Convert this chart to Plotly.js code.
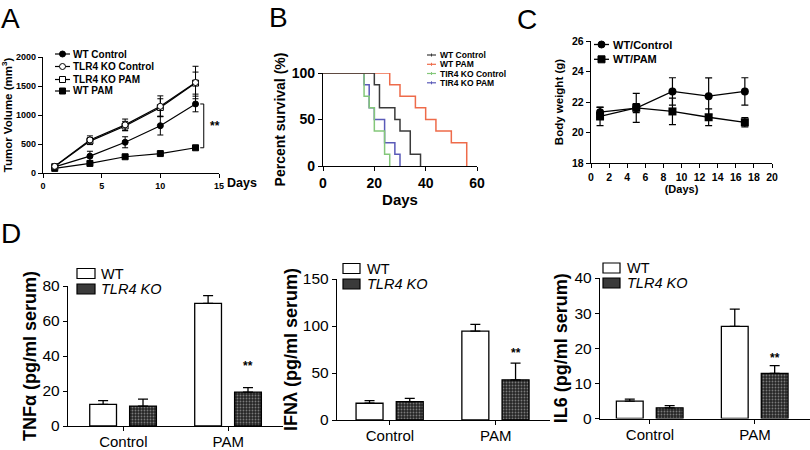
<!DOCTYPE html>
<html lang="en">
<head>
<meta charset="UTF-8" />
<script src="https://cdn.plot.ly/plotly-3.0.1.min.js"></script>
<style>body { margin: 0; background: #fff; }</style>
</head>
<body>
<div id="chart" style="width:810px;height:450px;"></div>
<script>
// ---- A: tumor volume (mm3) vs days
const tumorDays = [1, 4, 7, 10, 13];
const wtControlVol = [105, 290, 530, 815, 1190];
const wtControlVolErr = [20, 85, 95, 160, 135];
const koControlVol = [115, 570, 830, 1150, 1560];
const koControlVolErr = [25, 70, 100, 180, 280];
const koPamVol = [110, 550, 810, 1130, 1550];
const koPamVolErr = [25, 60, 80, 150, 190];
const wtPamVol = [80, 165, 280, 335, 435];
const wtPamVolErr = [15, 25, 25, 25, 30];

// ---- B: Kaplan-Meier survival (step points)
const survNames = ['WT Control', 'WT PAM', 'TIR4 KO Control', 'TIR4 KO PAM'];
const wtControlT = [0, 20, 22, 28, 30, 34, 38];
const wtControlS = [100, 87.5, 62.5, 50, 37.5, 12.5, 0];
const wtPamT = [0, 26, 30, 36, 40, 44, 50, 56];
const wtPamS = [100, 87.5, 75, 62.5, 50, 37.5, 25, 0];
const koControlT = [0, 16, 18, 20, 24, 26];
const koControlS = [100, 75, 62.5, 37.5, 12.5, 0];
const koPamT = [0, 16, 18, 20, 24, 28, 30];
const koPamS = [100, 87.5, 62.5, 50, 25, 12.5, 0];

// ---- C: body weight (g)
const weightDays = [1, 5, 9, 13, 17];
const ctrlWeight = [21.33, 21.6, 22.69, 22.38, 22.69];
const ctrlWeightErr = [0.33, 0.3, 0.9, 1.2, 0.9];
const pamWeight = [21.05, 21.62, 21.38, 21.0, 20.67];
const pamWeightErr = [0.6, 0.95, 0.87, 0.55, 0.3];

// ---- D: serum cytokines
const groups = ['Control', 'PAM'];
const tnfWT = [12.4, 70.1];
const tnfWTErr = [2.1, 4.4];
const tnfKO = [11.4, 19.4];
const tnfKOErr = [4, 2.5];
const ifnWT = [17.8, 94.6];
const ifnWTErr = [2.8, 7.1];
const ifnKO = [19.6, 42.7];
const ifnKOErr = [3.5, 17.8];
const il6WT = [4.95, 26.2];
const il6WTErr = [0.55, 4.95];
const il6KO = [3.05, 12.86];
const il6KOErr = [0.6, 2.2];

const FONT = 'Liberation Sans, Arial, sans-serif';
const W = 810, H = 450;
const px = x => x / W;
const py = y => 1 - y / H;

function ax(extra) {
  return Object.assign({
    showgrid: false, zeroline: false, showline: true, linecolor: '#000', linewidth: 1.2,
    ticks: 'outside', ticklen: 4, tickwidth: 1, tickcolor: '#000', fixedrange: true
  }, extra);
}
function bold(size) { return {family: FONT, size: size, color: '#000', weight: 700}; }
function plain(size) { return {family: FONT, size: size, color: '#000'}; }

const traces = [];

// A
function tumorLine(y, err, symbol, fill) {
  traces.push({
    x: tumorDays, y: y, xaxis: 'x', yaxis: 'y', mode: 'lines+markers', cliponaxis: false,
    line: {color: '#000', width: 1.2},
    marker: {symbol: symbol, size: 6, color: fill, line: {color: '#000', width: 1}},
    error_y: {type: 'data', array: err, color: '#000', thickness: 1, width: 3},
    showlegend: false
  });
}
tumorLine(wtPamVol, wtPamVolErr, 'square', '#000');
tumorLine(wtControlVol, wtControlVolErr, 'circle', '#000');
tumorLine(koPamVol, koPamVolErr, 'square', '#fff');
tumorLine(koControlVol, koControlVolErr, 'circle', '#fff');

// B
const survColors = ['#3a3a3a', '#ee6b4a', '#84c77a', '#5a5ab8'];
const survT = [wtControlT, wtPamT, koControlT, koPamT];
const survS = [wtControlS, wtPamS, koControlS, koPamS];
[3, 2, 1, 0].forEach(i => {
  traces.push({
    x: survT[i], y: survS[i], xaxis: 'x2', yaxis: 'y2', mode: 'lines', cliponaxis: false,
    line: {color: survColors[i], width: 1.5, shape: 'hv'}, name: survNames[i], showlegend: false
  });
});

// C
[[pamWeight, pamWeightErr, 'square'], [ctrlWeight, ctrlWeightErr, 'circle']].forEach(d => {
  traces.push({
    x: weightDays, y: d[0], xaxis: 'x3', yaxis: 'y3', mode: 'lines+markers', cliponaxis: false,
    line: {color: '#000', width: 1.3},
    marker: {symbol: d[2], size: 8, color: '#000'},
    error_y: {type: 'data', array: d[1], color: '#000', thickness: 1.2, width: 3.5},
    showlegend: false
  });
});

// D
const barW = 0.255;
function bars(n, wt, wtErr, ko, koErr) {
  traces.push({
    type: 'bar', x: [0, 1], y: wt, xaxis: 'x' + n, yaxis: 'y' + n, width: barW, offset: -0.32,
    marker: {color: '#fff', line: {color: '#000', width: 1.3}},
    error_y: {type: 'data', symmetric: false, array: wtErr, arrayminus: [0, 0], color: '#000', thickness: 1.3, width: 5},
    name: 'WT', showlegend: false
  });
  traces.push({
    type: 'bar', x: [0, 1], y: ko, xaxis: 'x' + n, yaxis: 'y' + n, width: barW, offset: 0.06,
    marker: {color: '#262626', line: {color: '#000', width: 1.3},
      pattern: {shape: '.', fillmode: 'replace', bgcolor: '#262626', fgcolor: '#7a7a7a', size: 3, solidity: 0.3}},
    error_y: {type: 'data', symmetric: false, array: koErr, arrayminus: [0, 0], color: '#000', thickness: 1.3, width: 5},
    name: 'TLR4 KO', showlegend: false
  });
}
bars(4, tnfWT, tnfWTErr, tnfKO, tnfKOErr);
bars(5, ifnWT, ifnWTErr, ifnKO, ifnKOErr);
bars(6, il6WT, il6WTErr, il6KO, il6KOErr);

// hand-drawn legends (tight GraphPad spacing)
const shapes = [], annotations = [];
function label(x, y, s, font, extra) {
  annotations.push(Object.assign({xref: 'paper', yref: 'paper', x: px(x), y: py(y), text: s,
    showarrow: false, xanchor: 'left', yanchor: 'middle', font: font, borderpad: 0}, extra));
}
function seg(x0, x1, y, color, width) {
  shapes.push({type: 'line', xref: 'paper', yref: 'paper', x0: px(x0), x1: px(x1), y0: py(y), y1: py(y),
    line: {color: color, width: width}});
}
function dot(type, cx, cy, r, fill) {
  shapes.push({type: type, xref: 'paper', yref: 'paper', xsizemode: 'pixel', ysizemode: 'pixel',
    xanchor: px(cx), yanchor: py(cy), x0: -r, x1: r, y0: -r, y1: r,
    fillcolor: fill, line: {color: '#000', width: 1}});
}
const legendA = [['WT Control', 'circle', '#000'], ['TLR4 KO Control', 'circle', '#fff'],
  ['TLR4 KO PAM', 'rect', '#fff'], ['WT PAM', 'rect', '#000']];
[54, 66.5, 79.5, 91].forEach((y, i) => {
  seg(55, 70, y, '#000', 1.2);
  dot(legendA[i][1], 62.5, y, 3, legendA[i][2]);
  label(72, y, legendA[i][0], bold(10));
});
[55, 64.3, 73.5, 82.8].forEach((y, i) => {
  seg(427, 436, y, survColors[i], 1.2);
  shapes.push({type: 'line', xref: 'paper', yref: 'paper', x0: px(431.5), x1: px(431.5),
    y0: py(y - 1.5), y1: py(y + 1.5), line: {color: survColors[i], width: 1}});
  label(439, y, survNames[i], bold(8.5));
});
[['WT/Control', 'circle', 44.5], ['WT/PAM', 'rect', 59.3]].forEach(d => {
  seg(594, 609, d[2], '#000', 1.3);
  dot(d[1], 601.5, d[2], 3.5, '#000');
  label(612, d[2], d[0], bold(11));
});
[[77, 95, 100, 273.5, 289], [343, 360, 366, 268.5, 284], [603, 620, 626, 268, 283]].forEach(d => {
  shapes.push({type: 'rect', xref: 'paper', yref: 'paper', x0: px(d[0]), x1: px(d[1]),
    y0: py(d[3] - 5), y1: py(d[3] + 5), fillcolor: '#fff', line: {color: '#000', width: 1.2}});
  shapes.push({type: 'rect', xref: 'paper', yref: 'paper', x0: px(d[0]), x1: px(d[1]),
    y0: py(d[4] - 5), y1: py(d[4] + 5), fillcolor: '#3a3a3a', line: {color: '#000', width: 1.2}});
  label(d[2], d[3], 'WT', plain(14.5));
  label(d[2], d[4], '<i>TLR4 KO</i>', plain(14.5));
});

// significance bracket in A, built from the last day's means
const last = tumorDays.length - 1;
const yTop = wtControlVol[last], yBot = wtPamVol[last];
shapes.push({type: 'path', xref: 'x', yref: 'y', line: {color: '#000', width: 1},
  path: `M13.4,${yTop} L13.7,${yTop} L13.7,${yBot} L13.4,${yBot}`});
annotations.push({xref: 'x', yref: 'y', x: 14.65, y: (yTop + yBot) / 2, text: '**', showarrow: false, font: bold(12)});
[['x4', 'y4', 34.3], ['x5', 'y5', 71], ['x6', 'y6', 17.3]].forEach(d => {
  annotations.push({xref: d[0], yref: d[1], x: 1 + 0.06 + barW / 2, y: d[2], text: '**', showarrow: false, font: bold(12)});
});
annotations.push({xref: 'paper', yref: 'paper', x: px(225), y: py(182.5), text: 'Days', showarrow: false,
  xanchor: 'left', font: bold(12.5)});

// panel letters
[['A', 0, 18], ['B', 268, 17], ['C', 516, 19], ['D', 0, 233]].forEach(d => {
  label(d[1], d[2], d[0], plain(28));
});

const layout = {
  width: W, height: H, margin: {l: 0, r: 0, t: 0, b: 0},
  paper_bgcolor: '#fff', plot_bgcolor: 'rgba(0,0,0,0)', showlegend: false,
  font: {family: FONT, color: '#000'},
  xaxis: ax({domain: [px(43), px(219)], range: [0, 15], tickvals: [0, 5, 10, 15], anchor: 'y', tickfont: bold(9)}),
  yaxis: ax({domain: [py(173), py(57)], range: [0, 2000], dtick: 500, anchor: 'x', tickfont: bold(9),
    title: {text: 'Tumor Volume (mm<sup>3</sup>)', font: bold(11.5), standoff: 2}}),
  xaxis2: ax({domain: [px(323), px(477)], range: [0, 60], dtick: 20, anchor: 'y2', tickfont: bold(14),
    title: {text: 'Days', font: bold(15), standoff: 2}}),
  yaxis2: ax({domain: [py(166), py(73)], range: [0, 100], dtick: 50, anchor: 'x2', tickfont: bold(14),
    title: {text: 'Percent survival (%)', font: bold(14), standoff: 2}}),
  xaxis3: ax({domain: [px(591), px(772)], range: [0, 20], dtick: 2, anchor: 'y3', tickfont: bold(10.5),
    title: {text: '(Days)', font: bold(11), standoff: 3}}),
  yaxis3: ax({domain: [py(163), py(41)], range: [18, 26], dtick: 2, anchor: 'x3', tickfont: bold(10.5),
    title: {text: 'Body weight (g)', font: bold(11.5), standoff: 6}}),
  xaxis4: ax({domain: [px(68), px(283)], range: [-0.527, 1.521], tickvals: [0, 1], ticktext: groups, anchor: 'y4', tickfont: plain(15), ticklabelstandoff: -2}),
  yaxis4: ax({domain: [py(426), py(286)], range: [0, 80], dtick: 20, anchor: 'x4', tickfont: plain(15.5),
    title: {text: 'TNF\u03b1 (pg/ml serum)', font: bold(18), standoff: 1}}),
  xaxis5: ax({domain: [px(337), px(550)], range: [-0.5, 1.513], tickvals: [0, 1], ticktext: groups, anchor: 'y5', tickfont: plain(15), ticklabelstandoff: -2}),
  yaxis5: ax({domain: [py(420), py(279)], range: [0, 150], dtick: 50, anchor: 'x5', tickfont: plain(15.5),
    title: {text: 'IFN\u03bb (pg/ml serum)', font: bold(18), standoff: 0}}),
  xaxis6: ax({domain: [px(600), px(810)], range: [-0.476, 1.524], tickvals: [0, 1], ticktext: groups, anchor: 'y6', tickfont: plain(15), ticklabelstandoff: -2}),
  yaxis6: ax({domain: [py(418.5), py(278)], range: [0, 40], dtick: 10, anchor: 'x6', tickfont: plain(15.5),
    title: {text: 'IL6 (pg/ml serum)', font: bold(18), standoff: 2}}),
  shapes: shapes,
  annotations: annotations
};

Plotly.newPlot('chart', traces, layout, {displayModeBar: false, staticPlot: true});
</script>
</body>
</html>
